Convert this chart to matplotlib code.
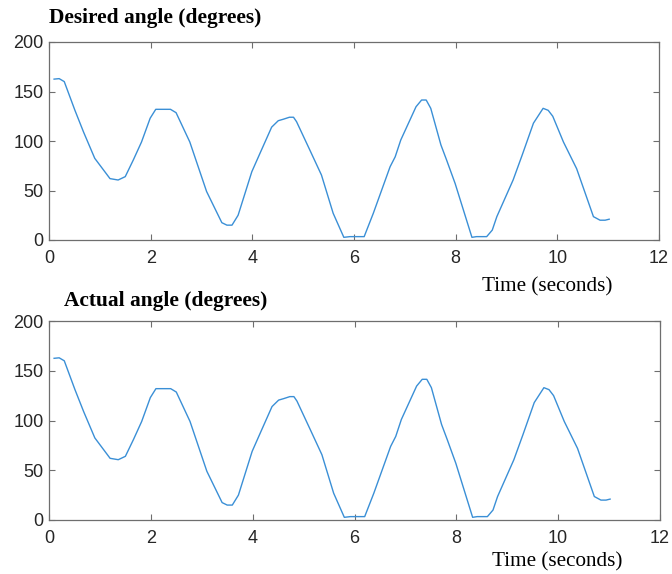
import matplotlib.pyplot as plt

# time (s) and angle (deg)
time = [0.10, 0.20, 0.30, 0.51, 0.68, 0.90, 1.20, 1.36, 1.50, 1.66, 1.82, 1.99,
        2.10, 2.39, 2.50, 2.77, 3.10, 3.40, 3.50, 3.60, 3.72, 3.99, 4.15, 4.38,
        4.51, 4.61, 4.73, 4.81, 4.87, 5.13, 5.36, 5.59, 5.80, 5.92, 6.20, 6.38,
        6.71, 6.81, 6.92, 7.22, 7.33, 7.42, 7.51, 7.71, 7.82, 7.99, 8.32, 8.41,
        8.61, 8.72, 8.81, 9.13, 9.31, 9.53, 9.72, 9.82, 9.91, 10.12, 10.38,
        10.71, 10.84, 10.94, 11.02]
desired = [162.5, 163, 160, 131, 109, 82.5, 62, 60.6, 64, 81, 99, 123,
           132, 132, 128.6, 99, 49, 17.5, 15, 15, 25, 69, 87.5, 114,
           120.5, 122, 124, 124, 119.5, 91, 65.6, 27, 2.7, 3.4, 3.4, 27,
           74, 84, 101, 134.6, 141.4, 141.4, 133, 96, 81, 57, 2.7, 3.4,
           3.4, 10, 23.6, 60.6, 86, 118, 133, 131, 125, 99, 72,
           23.6, 20, 20, 21]
actual = list(desired)

titles = ["Desired angle (degrees)", "Actual angle (degrees)"]
xticks = [0, 2, 4, 6, 8, 10, 12]
yticks = [0, 50, 100, 150, 200]

W, H = 672, 574
fig = plt.figure(figsize=(W / 100, H / 100), dpi=100)

ax_rects = [[49 / W, 1 - 240 / H, 610 / W, 198 / H],
            [49 / W, 1 - 520 / H, 611 / W, 199 / H]]
title_pos = [(49 / W, 1 - 18 / H), (64 / W, 1 - 301 / H)]
xlabel_pos = [(547 / W, 1 - 287 / H), (557 / W, 1 - 562 / H)]

for rect, series, title, tp, xp in zip(ax_rects, [desired, actual], titles,
                                       title_pos, xlabel_pos):
    ax = fig.add_axes(rect)
    ax.plot(time, series, color="#3a8fd6", lw=1.0)
    ax.set_xlim(0, 12)
    ax.set_ylim(0, 200)
    ax.set_xticks(xticks)
    ax.set_yticks(yticks)
    ax.tick_params(direction="in", top=True, right=True, length=4,
                   width=0.8, color="#6e6e6e", labelcolor="#262626",
                   labelsize=13)
    ax.tick_params(axis="x", pad=7)
    ax.tick_params(axis="y", pad=4)
    for lab in ax.get_xticklabels() + ax.get_yticklabels():
        lab.set_family("Liberation Sans")
    for s in ax.spines.values():
        s.set_color("#6e6e6e")
        s.set_linewidth(0.9)
    fig.text(tp[0], tp[1], title, ha="left", va="center",
             family="Liberation Serif", weight="bold", fontsize=15.4)
    fig.text(xp[0], xp[1], "Time (seconds)", ha="center", va="center",
             family="Liberation Serif", fontsize=15.2)

fig.savefig("out.png", dpi=100)
